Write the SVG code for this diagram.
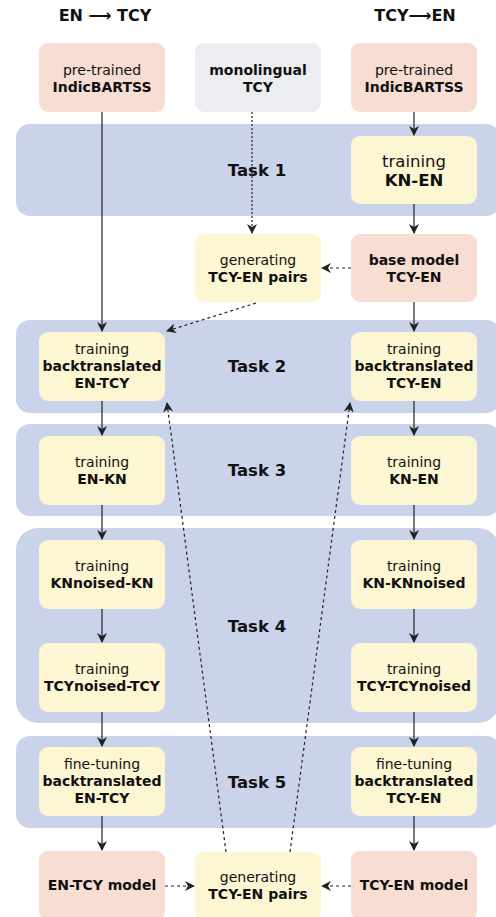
<svg xmlns="http://www.w3.org/2000/svg" width="496" height="917" viewBox="0 0 496 917">
<defs>
<style>
.band{fill:#CBD3EB}
.pink{fill:#F8DDD3}
.gray{fill:#ECEDF0}
.yel{fill:#FDF6D3}
text{font-family:"DejaVu Sans",Verdana,sans-serif;font-size:14px;fill:#111;text-anchor:middle}
.b{font-weight:bold}
.task{font-weight:bold;font-size:16.5px}
.title{font-weight:bold;font-size:16px}
.big{font-size:16.5px}
.sol{stroke:#222;stroke-width:1.2;fill:none;marker-end:url(#ah)}
.dash{stroke:#222;stroke-width:1.2;fill:none;stroke-dasharray:3,3;marker-end:url(#ah)}
.dot{stroke:#222;stroke-width:1.2;fill:none;stroke-dasharray:2,2;marker-end:url(#ah)}
</style>
<marker id="ah" viewBox="0 0 10 10" refX="9" refY="5" markerWidth="10" markerHeight="10" markerUnits="userSpaceOnUse" orient="auto">
<path d="M0,0 L10,5 L0,10 L3,5 Z" fill="#222"/>
</marker>
</defs>

<text class="title" x="105" y="21">EN ⟶ TCY</text>
<text class="title" x="415" y="21">TCY⟶EN</text>

<g id="bands">
<rect id="task1" class="band" x="16" y="124" width="484" height="92" rx="14"/>
<rect id="task2" class="band" x="16" y="320" width="484" height="93" rx="14"/>
<rect id="task3" class="band" x="16" y="424" width="484" height="92" rx="14"/>
<rect id="task4" class="band" x="16" y="528" width="484" height="195" rx="22"/>
<rect id="task5" class="band" x="16" y="736" width="484" height="92" rx="14"/>
<text class="task" x="257" y="176">Task 1</text>
<text class="task" x="257" y="372">Task 2</text>
<text class="task" x="257" y="476">Task 3</text>
<text class="task" x="257" y="632">Task 4</text>
<text class="task" x="257" y="788">Task 5</text>
</g>

<g id="n_pre_left"><rect class="pink" x="39" y="43" width="126" height="69" rx="9"/>
<text x="102" y="75">pre-trained</text><text class="b" x="102" y="92">IndicBARTSS</text></g>
<g id="n_mono"><rect class="gray" x="195" y="43" width="126" height="69" rx="9"/>
<text class="b" x="258" y="75">monolingual</text><text class="b" x="258" y="92">TCY</text></g>
<g id="n_pre_right"><rect class="pink" x="351" y="43" width="126" height="69" rx="9"/>
<text x="414" y="75">pre-trained</text><text class="b" x="414" y="92">IndicBARTSS</text></g>

<g id="n_train_kn_en1"><rect class="yel" x="351" y="136" width="126" height="68" rx="9"/>
<text class="big" x="414" y="167">training</text><text class="b big" x="414" y="186">KN-EN</text></g>

<g id="n_gen1"><rect class="yel" x="195" y="234" width="126" height="68" rx="9"/>
<text x="258" y="265">generating</text><text class="b" x="258" y="282">TCY-EN pairs</text></g>
<g id="n_base"><rect class="pink" x="351" y="234" width="126" height="68" rx="9"/>
<text class="b" x="414" y="265">base model</text><text class="b" x="414" y="282">TCY-EN</text></g>

<g id="n_bt_left"><rect class="yel" x="39" y="332" width="126" height="69" rx="9"/>
<text x="102" y="354">training</text><text class="b" x="102" y="371">backtranslated</text><text class="b" x="102" y="388">EN-TCY</text></g>
<g id="n_bt_right"><rect class="yel" x="351" y="332" width="126" height="69" rx="9"/>
<text x="414" y="354">training</text><text class="b" x="414" y="371">backtranslated</text><text class="b" x="414" y="388">TCY-EN</text></g>

<g id="n_en_kn"><rect class="yel" x="39" y="436" width="126" height="69" rx="9"/>
<text x="102" y="467">training</text><text class="b" x="102" y="484">EN-KN</text></g>
<g id="n_kn_en"><rect class="yel" x="351" y="436" width="126" height="69" rx="9"/>
<text x="414" y="467">training</text><text class="b" x="414" y="484">KN-EN</text></g>

<g id="n_knnoised_kn"><rect class="yel" x="39" y="540" width="126" height="69" rx="9"/>
<text x="102" y="571">training</text><text class="b" x="102" y="588">KNnoised-KN</text></g>
<g id="n_kn_knnoised"><rect class="yel" x="351" y="540" width="126" height="69" rx="9"/>
<text x="414" y="571">training</text><text class="b" x="414" y="588">KN-KNnoised</text></g>

<g id="n_tcynoised_tcy"><rect class="yel" x="39" y="643" width="126" height="69" rx="9"/>
<text x="102" y="674">training</text><text class="b" x="102" y="691">TCYnoised-TCY</text></g>
<g id="n_tcy_tcynoised"><rect class="yel" x="351" y="643" width="126" height="69" rx="9"/>
<text x="414" y="674">training</text><text class="b" x="414" y="691">TCY-TCYnoised</text></g>

<g id="n_ft_left"><rect class="yel" x="39" y="747" width="126" height="69" rx="9"/>
<text x="102" y="769">fine-tuning</text><text class="b" x="102" y="786">backtranslated</text><text class="b" x="102" y="803">EN-TCY</text></g>
<g id="n_ft_right"><rect class="yel" x="351" y="747" width="126" height="69" rx="9"/>
<text x="414" y="769">fine-tuning</text><text class="b" x="414" y="786">backtranslated</text><text class="b" x="414" y="803">TCY-EN</text></g>

<g id="n_model_left"><rect class="pink" x="39" y="851" width="126" height="69" rx="9"/>
<text class="b" x="102" y="890">EN-TCY model</text></g>
<g id="n_gen2"><rect class="yel" x="195" y="852" width="126" height="69" rx="9"/>
<text x="258" y="882">generating</text><text class="b" x="258" y="899">TCY-EN pairs</text></g>
<g id="n_model_right"><rect class="pink" x="351" y="851" width="126" height="69" rx="9"/>
<text class="b" x="414" y="890">TCY-EN model</text></g>

<g id="connectors">
<path class="sol" d="M102,112 V331"/>
<path class="dot" d="M252,112 V233"/>
<path class="sol" d="M414,112 V135"/>
<path class="sol" d="M414,204 V233"/>
<path class="dash" d="M351,268 H322"/>
<path class="dash" d="M256,303 L167,331"/>
<path class="sol" d="M414,302 V331"/>
<path class="sol" d="M102,401 V435"/>
<path class="sol" d="M414,401 V435"/>
<path class="sol" d="M102,505 V539"/>
<path class="sol" d="M414,505 V539"/>
<path class="sol" d="M102,609 V642"/>
<path class="sol" d="M414,609 V642"/>
<path class="sol" d="M102,712 V746"/>
<path class="sol" d="M414,712 V746"/>
<path class="sol" d="M102,816 V850"/>
<path class="sol" d="M414,816 V850"/>
<path class="dash" d="M165,886 H194"/>
<path class="dash" d="M351,886 H322"/>
<path class="dash" d="M226,852 L167,403"/>
<path class="dash" d="M290,852 L350,403"/>
</g>
</svg>
